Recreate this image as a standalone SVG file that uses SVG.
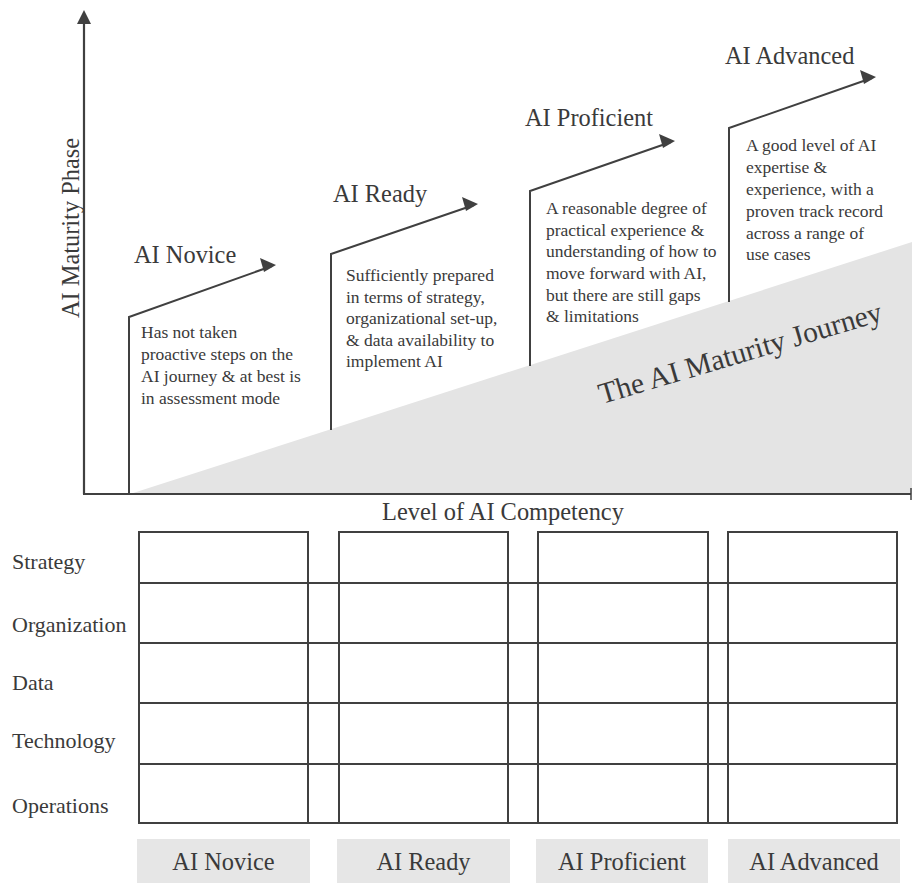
<svg xmlns="http://www.w3.org/2000/svg" width="912" height="883" viewBox="0 0 912 883">
<style>
  text { font-family: "Liberation Serif", "Times New Roman", serif; fill: #3a3a3a; }
  .title { font-size: 24.4px; }
  .desc { font-size: 17.5px; }
  .row { font-size: 22px; }
  .line { stroke: #404040; stroke-width: 2.2; fill: none; }
  .cell { stroke: #404040; stroke-width: 2; fill: #ffffff; }
  .tab { fill: #e6e6e6; }
</style>
<rect width="912" height="883" fill="#ffffff"/>

<g id="journey-area">
  <polygon points="130,494 912,242 912,494" fill="#e4e4e4"/>
  <text transform="translate(602,404) rotate(-16.5)" style="font-size:29.5px;fill:#3a3a3a">The AI Maturity Journey</text>
</g>

<g id="axes">
  <line class="line" x1="84" y1="494" x2="84" y2="22"/>
  <polygon points="84,10 77,24 91,24" fill="#404040"/>
  <line class="line" x1="83" y1="494" x2="911" y2="494"/>
  <line x1="911" y1="488" x2="911" y2="500" stroke="#404040" stroke-width="1.5"/>
  <text class="title" transform="translate(79,228) rotate(-90)" text-anchor="middle">AI Maturity Phase</text>
  <text class="title" x="503" y="520" text-anchor="middle">Level of AI Competency</text>
</g>

<g id="connectors">
  <path d="M129,494 L129,317 L272,266" stroke="#404040" stroke-width="2" fill="none"/>
  <polygon points="276,265 260,258 264,272" fill="#404040"/>
  <path d="M331,430 L331,254 L474,205" stroke="#404040" stroke-width="2" fill="none"/>
  <polygon points="478,204 462,197 466,211" fill="#404040"/>
  <path d="M530,366 L530,191 L671,142" stroke="#404040" stroke-width="2" fill="none"/>
  <polygon points="675,141 659,134 663,148" fill="#404040"/>
  <path d="M729,302 L729,128 L872,78" stroke="#404040" stroke-width="2" fill="none"/>
  <polygon points="876,77 860,70 864,84" fill="#404040"/>
</g>

<g id="phase-novice">
  <text class="title" x="134" y="263">AI Novice</text>
  <text class="desc" x="141" y="338">Has not taken</text>
  <text class="desc" x="141" y="360">proactive steps on the</text>
  <text class="desc" x="141" y="382">AI journey &amp; at best is</text>
  <text class="desc" x="141" y="404">in assessment mode</text>
</g>
<g id="phase-ready">
  <text class="title" x="333" y="202">AI Ready</text>
  <text class="desc" x="346" y="281">Sufficiently prepared</text>
  <text class="desc" x="346" y="303">in terms of strategy,</text>
  <text class="desc" x="346" y="324">organizational set-up,</text>
  <text class="desc" x="346" y="346">&amp; data availability to</text>
  <text class="desc" x="346" y="367">implement AI</text>
</g>
<g id="phase-proficient">
  <text class="title" x="525" y="126">AI Proficient</text>
  <text class="desc" x="546" y="214">A reasonable degree of</text>
  <text class="desc" x="546" y="236">practical experience &amp;</text>
  <text class="desc" x="546" y="257">understanding of how to</text>
  <text class="desc" x="546" y="279">move forward with AI,</text>
  <text class="desc" x="546" y="301">but there are still gaps</text>
  <text class="desc" x="546" y="322">&amp; limitations</text>
</g>
<g id="phase-advanced">
  <text class="title" x="725" y="64">AI Advanced</text>
  <text class="desc" x="746" y="151">A good level of AI</text>
  <text class="desc" x="746" y="173">expertise &amp;</text>
  <text class="desc" x="746" y="195">experience, with a</text>
  <text class="desc" x="746" y="217">proven track record</text>
  <text class="desc" x="746" y="239">across a range of</text>
  <text class="desc" x="746" y="260">use cases</text>
</g>

<g id="row-labels">
  <text class="row" x="12" y="569">Strategy</text>
  <text class="row" x="12" y="632">Organization</text>
  <text class="row" x="12" y="690">Data</text>
  <text class="row" x="12" y="748">Technology</text>
  <text class="row" x="12" y="813">Operations</text>
</g>

<g id="table">
  <rect class="cell" x="139" y="532" width="169" height="291"/>
  <rect class="cell" x="339" y="532" width="169" height="291"/>
  <rect class="cell" x="538" y="532" width="170" height="291"/>
  <rect class="cell" x="728" y="532" width="169" height="291"/>
  <g stroke="#404040" stroke-width="2">
    <line x1="139" y1="583" x2="897" y2="583"/>
    <line x1="139" y1="643" x2="897" y2="643"/>
    <line x1="139" y1="703" x2="897" y2="703"/>
    <line x1="139" y1="764" x2="897" y2="764"/>
    <line x1="139" y1="823" x2="897" y2="823"/>
  </g>
</g>

<g id="tab-novice">
  <rect class="tab" x="137" y="839" width="173" height="44"/>
  <text class="title" x="223.5" y="870" text-anchor="middle">AI Novice</text>
</g>
<g id="tab-ready">
  <rect class="tab" x="337" y="839" width="173" height="44"/>
  <text class="title" x="423.5" y="870" text-anchor="middle">AI Ready</text>
</g>
<g id="tab-proficient">
  <rect class="tab" x="536" y="839" width="172" height="44"/>
  <text class="title" x="622" y="870" text-anchor="middle">AI Proficient</text>
</g>
<g id="tab-advanced">
  <rect class="tab" x="728" y="839" width="172" height="44"/>
  <text class="title" x="814" y="870" text-anchor="middle">AI Advanced</text>
</g>
</svg>
